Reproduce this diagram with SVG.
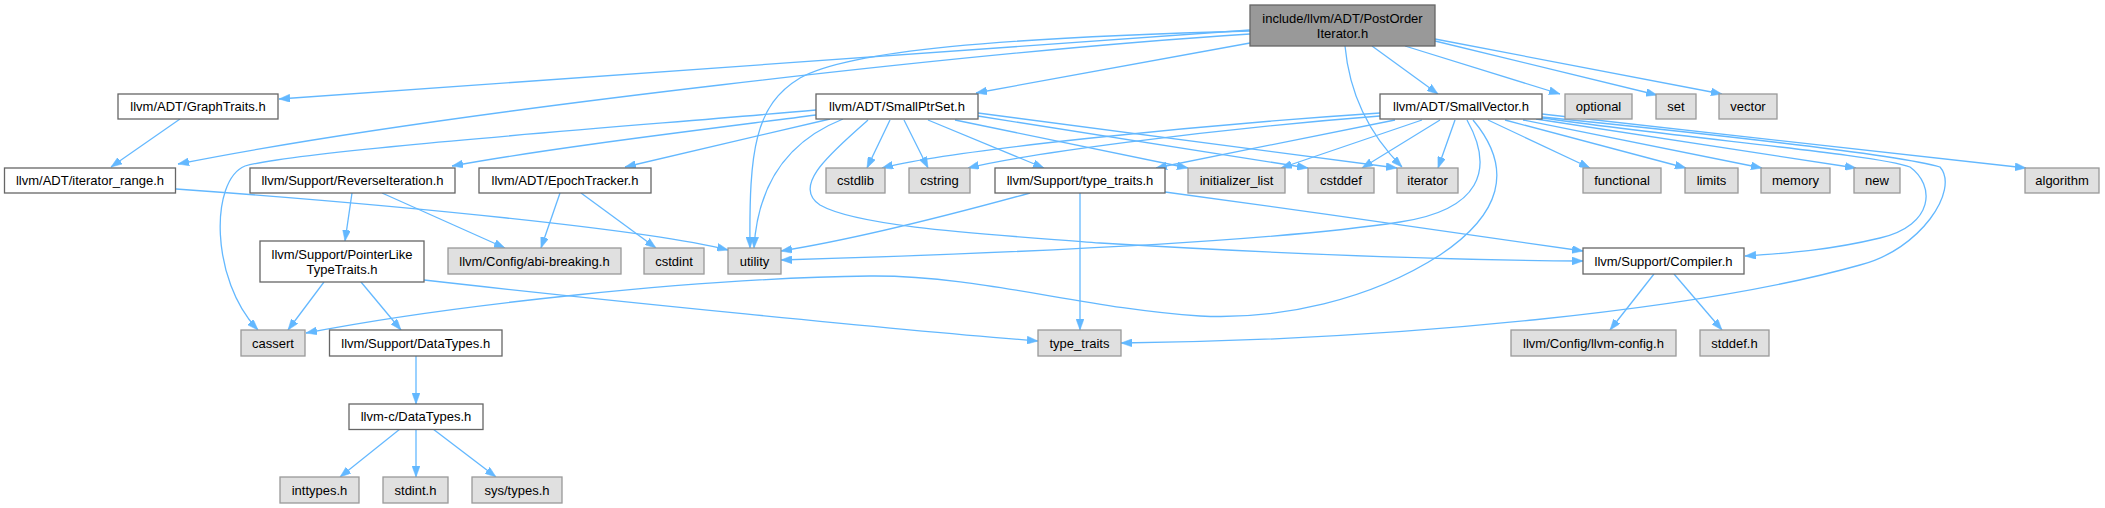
<svg xmlns="http://www.w3.org/2000/svg" width="2105" height="508" viewBox="0 0 2105 508">
<style>
  .w rect{fill:#ffffff;stroke:#666666;stroke-width:1.3}
  .g rect{fill:#e0e0e0;stroke:#999999;stroke-width:1.3}
  .m rect{fill:#999999;stroke:#666666;stroke-width:1.3}
  text{font-family:"Liberation Sans",Arial,sans-serif;font-size:13px;fill:#000000;text-anchor:middle}
  #edges path{fill:none;stroke:#63b8ff;stroke-width:1.3;marker-end:url(#arr)}
</style>
<defs>
  <marker id="arr" viewBox="0 0 11 8" refX="11" refY="4" markerWidth="11" markerHeight="8" markerUnits="userSpaceOnUse" orient="auto">
    <path d="M0,0 L11,4 L0,8 z" fill="#63b8ff" stroke="#63b8ff" stroke-width="0.5"/>
  </marker>
</defs>
<rect width="2105" height="508" fill="#ffffff"/>
<g id="edges">
  <!-- main -->
  <path d="M1250,30 L279,99"/>
  <path d="M1250,34 C1000,50 450,110 178,164"/>
  <path d="M1250,31 C1000,38 850,50 800,78 C755,105 749,150 750,248"/>
  <path d="M1250,43 L976,93"/>
  <path d="M1372,46 L1438,94"/>
  <path d="M1345,46 C1350,100 1375,140 1402,167"/>
  <path d="M1405,46 L1560,94"/>
  <path d="M1435,41 L1657,95"/>
  <path d="M1435,39 L1722,94"/>
  <!-- GraphTraits / iterator_range -->
  <path d="M180,119 L111,167"/>
  <path d="M176,189 C400,205 650,230 728,250"/>
  <!-- SmallPtrSet -->
  <path d="M816,110 C650,125 300,150 245,166 C210,180 210,280 258,330"/>
  <path d="M816,115 C700,130 550,148 452,166"/>
  <path d="M830,119 L625,167"/>
  <path d="M843,119 C790,140 758,180 754,248"/>
  <path d="M868,120 C835,150 790,185 820,205 C860,228 1000,235 1100,243 C1300,255 1450,260 1583,261"/>
  <path d="M890,120 L867,168"/>
  <path d="M904,120 L928,168"/>
  <path d="M928,120 L1044,168"/>
  <path d="M955,120 L1188,168"/>
  <path d="M978,116 L1308,168"/>
  <path d="M978,113 L1397,168"/>
  <!-- ReverseIteration / EpochTracker -->
  <path d="M352,193 L345,241"/>
  <path d="M382,193 L505,248"/>
  <path d="M560,193 L541,248"/>
  <path d="M581,193 L656,248"/>
  <!-- PointerLike -->
  <path d="M324,282 L288,330"/>
  <path d="M361,282 L401,330"/>
  <path d="M424,280 C600,300 900,330 1038,341"/>
  <!-- DataTypes -->
  <path d="M416,356 L416,404"/>
  <path d="M400,429 L340,477"/>
  <path d="M416,429 L416,477"/>
  <path d="M433,429 L496,477"/>
  <!-- Support/type_traits.h -->
  <path d="M1030,193 C950,215 850,240 781,251"/>
  <path d="M1080,193 L1080,330"/>
  <path d="M1165,192 C1300,210 1480,236 1583,251"/>
  <!-- SmallVector -->
  <path d="M1380,113 C1200,125 950,150 882,168"/>
  <path d="M1380,116 C1200,130 1020,155 968,168"/>
  <path d="M1395,120 L1156,168"/>
  <path d="M1422,120 L1281,168"/>
  <path d="M1440,120 L1362,168"/>
  <path d="M1455,120 L1438,168"/>
  <path d="M1467,120 C1495,170 1480,210 1400,222 C1250,245 950,255 781,260"/>
  <path d="M1473,120 C1515,170 1500,215 1440,255 C1370,300 1280,320 1200,316 C1080,308 980,275 870,276 C700,278 450,305 306,333"/>
  <path d="M1488,120 L1590,168"/>
  <path d="M1505,120 L1686,168"/>
  <path d="M1523,120 L1762,168"/>
  <path d="M1536,119 L1856,168"/>
  <path d="M1542,118 C1700,140 1880,155 1910,167 C1935,185 1935,225 1880,238 C1830,250 1790,253 1745,256"/>
  <path d="M1542,117 C1720,135 1900,155 1940,167 C1960,190 1920,250 1860,265 C1700,310 1400,340 1121,343"/>
  <path d="M1542,114 L2026,168"/>
  <!-- Compiler.h -->
  <path d="M1654,274 L1610,330"/>
  <path d="M1674,274 L1722,330"/>
</g>
<g id="n_main" class="m"><rect x="1250" y="5" width="185" height="41"/><text x="1342.5" y="23">include/llvm/ADT/PostOrder</text><text x="1342.5" y="38">Iterator.h</text></g>
<g id="n_graphtraits" class="w"><rect x="118" y="94" width="160" height="25"/><text x="198" y="111">llvm/ADT/GraphTraits.h</text></g>
<g id="n_iterrange" class="w"><rect x="4.5" y="168" width="171" height="25"/><text x="90" y="185">llvm/ADT/iterator_range.h</text></g>
<g id="n_smallptrset" class="w"><rect x="816" y="94" width="162" height="25"/><text x="897" y="111">llvm/ADT/SmallPtrSet.h</text></g>
<g id="n_smallvector" class="w"><rect x="1380" y="94" width="162" height="25"/><text x="1461" y="111">llvm/ADT/SmallVector.h</text></g>
<g id="n_optional" class="g"><rect x="1565" y="94" width="67" height="25"/><text x="1598.5" y="111">optional</text></g>
<g id="n_set" class="g"><rect x="1656" y="94" width="40" height="25"/><text x="1676" y="111">set</text></g>
<g id="n_vector" class="g"><rect x="1719" y="94" width="58" height="25"/><text x="1748" y="111">vector</text></g>
<g id="n_reverse" class="w"><rect x="250" y="168" width="205" height="25"/><text x="352.5" y="185">llvm/Support/ReverseIteration.h</text></g>
<g id="n_epoch" class="w"><rect x="479" y="168" width="172" height="25"/><text x="565" y="185">llvm/ADT/EpochTracker.h</text></g>
<g id="n_cstdlib" class="g"><rect x="826" y="168" width="59" height="25"/><text x="855.5" y="185">cstdlib</text></g>
<g id="n_cstring" class="g"><rect x="909" y="168" width="61" height="25"/><text x="939.5" y="185">cstring</text></g>
<g id="n_typetraitsh" class="w"><rect x="995" y="168" width="170" height="25"/><text x="1080" y="185">llvm/Support/type_traits.h</text></g>
<g id="n_initlist" class="g"><rect x="1188" y="168" width="97" height="25"/><text x="1236.5" y="185">initializer_list</text></g>
<g id="n_cstddef" class="g"><rect x="1308" y="168" width="66" height="25"/><text x="1341" y="185">cstddef</text></g>
<g id="n_iterator" class="g"><rect x="1397" y="168" width="61" height="25"/><text x="1427.5" y="185">iterator</text></g>
<g id="n_functional" class="g"><rect x="1583" y="168" width="78" height="25"/><text x="1622" y="185">functional</text></g>
<g id="n_limits" class="g"><rect x="1685" y="168" width="53" height="25"/><text x="1711.5" y="185">limits</text></g>
<g id="n_memory" class="g"><rect x="1761" y="168" width="69" height="25"/><text x="1795.5" y="185">memory</text></g>
<g id="n_new" class="g"><rect x="1854" y="168" width="46" height="25"/><text x="1877" y="185">new</text></g>
<g id="n_algorithm" class="g"><rect x="2025" y="168" width="74" height="25"/><text x="2062" y="185">algorithm</text></g>
<g id="n_pointerlike" class="w"><rect x="260" y="241" width="164" height="41"/><text x="342" y="258.5">llvm/Support/PointerLike</text><text x="342" y="274">TypeTraits.h</text></g>
<g id="n_abi" class="g"><rect x="448" y="248" width="173" height="26"/><text x="534.5" y="265.5">llvm/Config/abi-breaking.h</text></g>
<g id="n_cstdint" class="g"><rect x="644" y="248" width="60" height="26"/><text x="674" y="265.5">cstdint</text></g>
<g id="n_utility" class="g"><rect x="728" y="248" width="53" height="26"/><text x="754.5" y="265.5">utility</text></g>
<g id="n_compiler" class="w"><rect x="1583" y="248" width="161" height="26"/><text x="1663.5" y="265.5">llvm/Support/Compiler.h</text></g>
<g id="n_cassert" class="g"><rect x="241" y="330" width="64" height="26"/><text x="273" y="347.5">cassert</text></g>
<g id="n_datatypes" class="w"><rect x="329.5" y="330" width="172.5" height="26"/><text x="415.75" y="347.5">llvm/Support/DataTypes.h</text></g>
<g id="n_type_traits" class="g"><rect x="1038" y="330" width="83" height="26"/><text x="1079.5" y="347.5">type_traits</text></g>
<g id="n_llvmconfig" class="g"><rect x="1511" y="330" width="165" height="26"/><text x="1593.5" y="347.5">llvm/Config/llvm-config.h</text></g>
<g id="n_stddef" class="g"><rect x="1700" y="330" width="69" height="26"/><text x="1734.5" y="347.5">stddef.h</text></g>
<g id="n_cdatatypes" class="w"><rect x="349" y="404" width="134" height="25.5"/><text x="416" y="421">llvm-c/DataTypes.h</text></g>
<g id="n_inttypes" class="g"><rect x="280" y="477" width="79" height="26"/><text x="319.5" y="494.5">inttypes.h</text></g>
<g id="n_stdint" class="g"><rect x="383" y="477" width="65" height="26"/><text x="415.5" y="494.5">stdint.h</text></g>
<g id="n_systypes" class="g"><rect x="472" y="477" width="90" height="26"/><text x="517" y="494.5">sys/types.h</text></g>
</svg>
